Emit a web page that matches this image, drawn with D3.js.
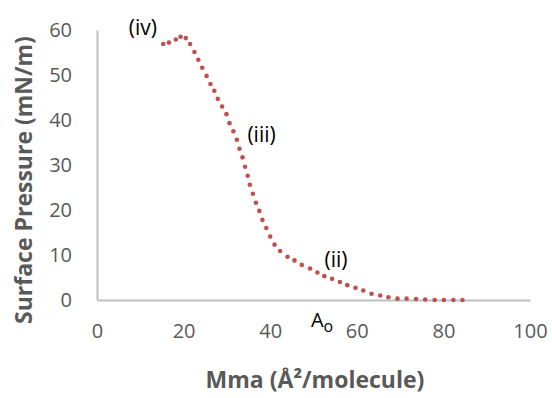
<!DOCTYPE html>
<html>
<head>
<meta charset="utf-8">
<script src="https://cdn.jsdelivr.net/npm/d3@7"></script>
<style>
  body { margin: 0; background: #fff; }
  text { font-family: "Open Sans", Lato, sans-serif; }
</style>
</head>
<body>
<div id="chart-area"></div>
<script>
// isotherm values (Mma, surface pressure)
var mma = [15.3, 16.6, 18.2, 19.3, 20.5, 21.5, 22.5, 23.4, 24.3, 25.3, 26.2, 27.1, 27.9, 28.9, 29.9,
    30.6, 31.5, 32.3, 32.9, 33.6, 34.2, 34.8, 35.3, 36.0, 36.7, 37.5, 38.2, 39.1, 40.0, 41.0,
    42.3, 44.0, 45.6, 47.3, 49.2, 50.9, 52.5, 54.3, 56.1, 57.8, 59.7, 61.5, 63.4, 65.4, 67.3,
    69.4, 71.5, 73.7, 75.8, 78.0, 80.1, 82.3, 84.4];
var pressure = [56.9, 57.2, 57.9, 58.5, 58.2, 56.9, 55.1, 53.4, 51.6, 49.8, 48.0, 46.5, 44.7, 43.0, 41.3,
    39.3, 37.5, 35.6, 33.6, 31.7, 29.6, 27.6, 25.6, 23.6, 21.6, 19.8, 17.8, 16.0, 14.1, 12.3,
    10.9, 9.6, 8.8, 7.8, 7.0, 6.1, 5.3, 4.7, 4.0, 3.3, 2.7, 2.1, 1.4, 1.0, 0.6,
    0.3, 0.3, 0.2, 0.1, 0.0, 0.0, 0.0, 0.0];
var xTicks = [0, 20, 40, 60, 80, 100];
var yTicks = [0, 10, 20, 30, 40, 50, 60];

// labels placed in data units
var notes = [
    { t: "(iv)", x: 10.6, y: 59.0 },
    { t: "(iii)", x: 38.0, y: 35.1 },
    { t: "(ii)", x: 55.2, y: 7.4 }
];

var margin = { left: 97, right: 22, top: 30, bottom: 98 };
var width = 552 - margin.left - margin.right,
    height = 398 - margin.top - margin.bottom;

var svg = d3.select("#chart-area")
    .append("svg")
        .attr("width", 552)
        .attr("height", 398);
var g = svg.append("g")
    .attr("transform", "translate(" + margin.left + "," + margin.top + ")");

var x = d3.scaleLinear().domain([0, 100]).range([0, width]);
var y = d3.scaleLinear().domain([0, 60]).range([height, 0]);

// X Axis
var xAxis = g.append("g")
    .attr("transform", "translate(0," + height + ")")
    .call(d3.axisBottom(x).tickValues(xTicks).tickSize(0).tickPadding(24));
// Y Axis
var yAxis = g.append("g")
    .call(d3.axisLeft(y).tickValues(yTicks).tickSize(0).tickPadding(25));

[xAxis, yAxis].forEach(function(a) {
    a.select(".domain").attr("stroke", "#bfbfbf").attr("stroke-width", 2);
    a.selectAll("text")
        .attr("fill", "#595959")
        .style("font-size", "20px")
        .style("font-family", "'Open Sans', Lato, sans-serif");
});

// points
var pts = mma.map(function(d, i) { return { x: d, y: pressure[i] }; });
g.selectAll("circle.pt")
    .data(pts)
    .enter()
    .append("circle")
        .attr("class", "pt")
        .attr("cx", function(d) { return x(d.x); })
        .attr("cy", function(d) { return y(d.y); })
        .attr("r", 2.3)
        .attr("fill", "#c0504d");

// annotations
g.selectAll("text.note")
    .data(notes)
    .enter()
    .append("text")
        .attr("class", "note")
        .attr("x", function(d) { return x(d.x); })
        .attr("y", function(d) { return y(d.y); })
        .attr("text-anchor", "middle")
        .attr("font-size", "21px")
        .attr("fill", "#000")
        .text(function(d) { return d.t; });

var ao = g.append("text")
    .attr("x", x(49.4))
    .attr("y", height + 27)
    .attr("font-size", "20px")
    .attr("fill", "#000");
ao.append("tspan").text("A");
ao.append("tspan").attr("dy", 5).attr("font-size", "16px").text("o");

// Labels
svg.append("text")
    .attr("x", 315)
    .attr("y", 388)
    .attr("text-anchor", "middle")
    .attr("font-size", "23px")
    .attr("font-weight", "bold")
    .attr("fill", "#595959")
    .text("Mma (Å²/molecule)");

svg.append("text")
    .attr("transform", "translate(32,180) rotate(-90)")
    .attr("text-anchor", "middle")
    .attr("font-size", "23px")
    .attr("font-weight", "bold")
    .attr("fill", "#595959")
    .text("Surface Pressure (mN/m)");
</script>
</body>
</html>
